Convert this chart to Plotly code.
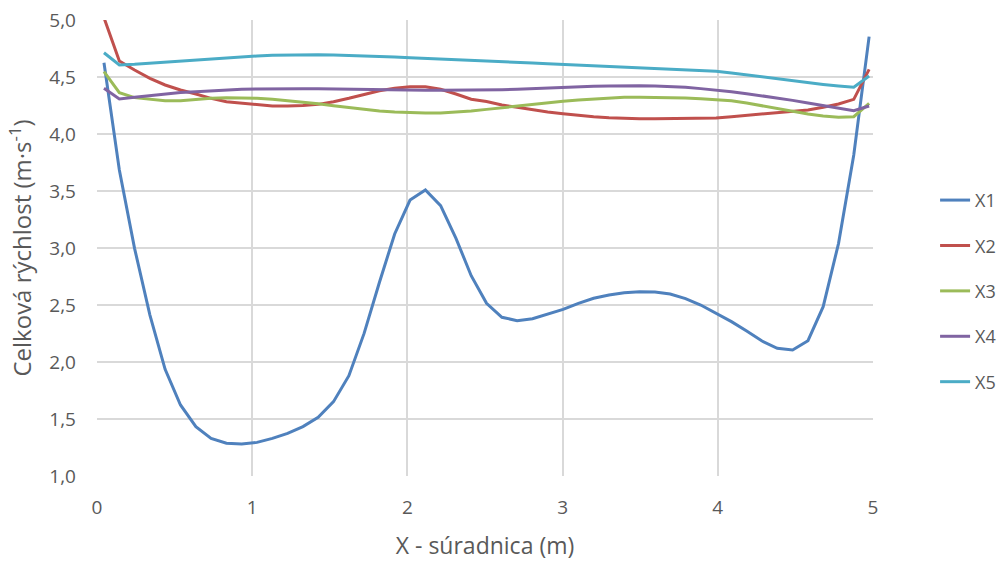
import plotly.graph_objects as go

x_pos = [0.045, 0.144, 0.242, 0.341, 0.439, 0.538, 0.637, 0.735, 0.834, 0.932,
         1.031, 1.130, 1.228, 1.327, 1.425, 1.524, 1.623, 1.721, 1.820, 1.918,
         2.017, 2.116, 2.214, 2.313, 2.411, 2.510, 2.609, 2.707, 2.806, 2.904,
         3.003, 3.102, 3.200, 3.299, 3.397, 3.496, 3.595, 3.693, 3.792, 3.890,
         3.989, 4.088, 4.186, 4.285, 4.383, 4.482, 4.581, 4.679, 4.778, 4.876,
         4.975]

x1 = [4.625, 3.684, 2.997, 2.412, 1.936, 1.623, 1.433, 1.330, 1.287, 1.281,
      1.295, 1.330, 1.374, 1.433, 1.515, 1.652, 1.880, 2.251, 2.700, 3.123,
      3.421, 3.509, 3.371, 3.085, 2.757, 2.515, 2.392, 2.363, 2.380, 2.418,
      2.462, 2.515, 2.559, 2.588, 2.608, 2.617, 2.614, 2.596, 2.556, 2.500,
      2.427, 2.354, 2.272, 2.184, 2.120, 2.105, 2.187, 2.485, 3.041, 3.816,
      4.854]

x2 = [5.020, 4.640, 4.561, 4.488, 4.430, 4.386, 4.351, 4.313, 4.283, 4.269,
      4.254, 4.246, 4.246, 4.249, 4.260, 4.283, 4.313, 4.348, 4.380, 4.401,
      4.415, 4.415, 4.392, 4.351, 4.305, 4.285, 4.254, 4.234, 4.211, 4.193,
      4.178, 4.164, 4.152, 4.143, 4.137, 4.134, 4.134, 4.134, 4.134, 4.134,
      4.140, 4.152, 4.164, 4.173, 4.184, 4.196, 4.211, 4.234, 4.263, 4.304,
      4.567]

x3 = [4.547, 4.363, 4.319, 4.304, 4.292, 4.292, 4.304, 4.313, 4.319, 4.319,
      4.313, 4.304, 4.292, 4.281, 4.266, 4.248, 4.231, 4.216, 4.202, 4.193,
      4.187, 4.184, 4.184, 4.190, 4.202, 4.216, 4.231, 4.246, 4.260, 4.275,
      4.287, 4.298, 4.307, 4.316, 4.322, 4.322, 4.322, 4.319, 4.316, 4.310,
      4.304, 4.292, 4.272, 4.248, 4.222, 4.199, 4.175, 4.158, 4.146, 4.152,
      4.269]

x4 = [4.401, 4.307, 4.322, 4.336, 4.351, 4.363, 4.371, 4.380, 4.386, 4.392,
      4.395, 4.398, 4.398, 4.398, 4.398, 4.395, 4.392, 4.389, 4.386, 4.386,
      4.383, 4.383, 4.383, 4.383, 4.383, 4.383, 4.389, 4.392, 4.398, 4.404,
      4.410, 4.415, 4.418, 4.421, 4.424, 4.424, 4.421, 4.418, 4.410, 4.398,
      4.386, 4.371, 4.354, 4.336, 4.316, 4.295, 4.272, 4.251, 4.228, 4.205,
      4.246]

x5 = [4.713, 4.605, 4.611, 4.620, 4.629, 4.640, 4.649, 4.661, 4.669, 4.678,
      4.684, 4.690, 4.693, 4.696, 4.696, 4.693, 4.690, 4.684, 4.681, 4.675,
      4.669, 4.664, 4.658, 4.652, 4.646, 4.640, 4.634, 4.629, 4.623, 4.617,
      4.611, 4.605, 4.600, 4.594, 4.590, 4.585, 4.579, 4.573, 4.567, 4.559,
      4.550, 4.535, 4.518, 4.500, 4.482, 4.465, 4.450, 4.435, 4.421, 4.410,
      4.509]

series_names = ["X1", "X2", "X3", "X4", "X5"]
series_values = [x1, x2, x3, x4, x5]
colors = ["#4f81bd", "#c0504d", "#9bbb59", "#8064a2", "#4bacc6"]

y_ticks = [1.0, 1.5, 2.0, 2.5, 3.0, 3.5, 4.0, 4.5, 5.0]
y_tick_labels = ["1,0", "1,5", "2,0", "2,5", "3,0", "3,5", "4,0", "4,5", "5,0"]
x_ticks = [0, 1, 2, 3, 4, 5]
x_tick_labels = ["0", "1", "2", "3", "4", "5"]

font_family = "Open Sans, Liberation Sans, sans-serif"
text_color = "#595959"

fig = go.Figure()
for name, vals, col in zip(series_names, series_values, colors):
    fig.add_trace(go.Scatter(
        x=x_pos, y=vals, mode="lines", name=name, legendgroup=name,
        line=dict(color=col, width=3),
    ))

fig.update_layout(
    width=1006, height=561,
    margin=dict(l=97, r=133, t=20, b=85, autoexpand=False),
    paper_bgcolor="white", plot_bgcolor="white",
    font=dict(family=font_family, size=18, color=text_color),
    showlegend=True,
    legend=dict(
        x=1.08, y=0.645, xanchor="left", yanchor="top",
        font=dict(family=font_family, size=18, color=text_color),
        tracegroupgap=19,
        bgcolor="rgba(0,0,0,0)",
    ),
    xaxis=dict(
        range=[0, 5], tickvals=x_ticks, ticktext=x_tick_labels,
        showgrid=True, gridcolor="#d9d9d9", gridwidth=1.5,
        zeroline=False, showline=False, ticks="", automargin=False,
        ticklabelstandoff=18,
        tickfont=dict(family=font_family, size=19, color=text_color),
        title=dict(text="X - súradnica (m)", font=dict(family=font_family, size=23, color=text_color), standoff=22),
    ),
    yaxis=dict(
        range=[1, 5], tickvals=y_ticks, ticktext=y_tick_labels,
        showgrid=True, gridcolor="#d9d9d9", gridwidth=1.5,
        zeroline=False, showline=False, ticks="", automargin=False,
        ticklabelstandoff=20,
        tickfont=dict(family=font_family, size=19, color=text_color),
        title=dict(text="Celková rýchlost (m·s<sup>-1</sup>)", font=dict(family=font_family, size=24, color=text_color), standoff=10),
    ),
)

fig.write_html("out.html")
